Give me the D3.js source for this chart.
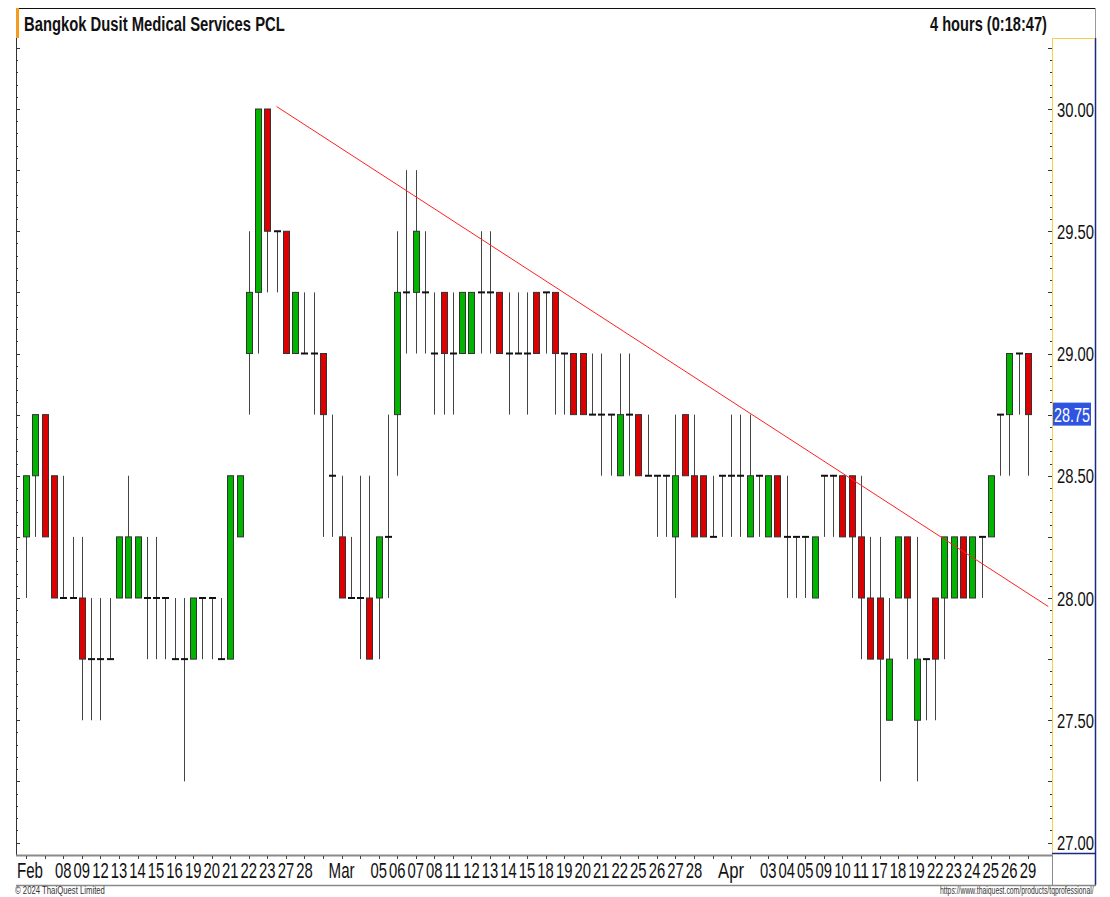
<!DOCTYPE html>
<html>
<head>
<meta charset="utf-8">
<script src="https://cdn.jsdelivr.net/npm/d3@7"></script>
<style>
  html, body { margin: 0; padding: 0; background: #fff; }
  svg { display: block; font-family: "Liberation Sans", Arial, sans-serif; }
</style>
</head>
<body>
<div id="chart"></div>
<script>
// Bangkok Dusit Medical Services PCL - 4 hour candles, Feb-Apr 2024
var tradingDays = [
  'Feb 06', 'Feb 07', 'Feb 08', 'Feb 09', 'Feb 12', 'Feb 13', 'Feb 14', 'Feb 15', 'Feb 16',
  'Feb 19', 'Feb 20', 'Feb 21', 'Feb 22', 'Feb 23', 'Feb 27', 'Feb 28', 'Feb 29',
  'Mar 01', 'Mar 04', 'Mar 05', 'Mar 06', 'Mar 07', 'Mar 08', 'Mar 11', 'Mar 12', 'Mar 13',
  'Mar 14', 'Mar 15', 'Mar 18', 'Mar 19', 'Mar 20', 'Mar 21', 'Mar 22', 'Mar 25', 'Mar 26',
  'Mar 27', 'Mar 28', 'Mar 29', 'Apr 01', 'Apr 02', 'Apr 03', 'Apr 04', 'Apr 05', 'Apr 09',
  'Apr 10', 'Apr 11', 'Apr 17', 'Apr 18', 'Apr 19', 'Apr 22', 'Apr 23', 'Apr 24', 'Apr 25',
  'Apr 26', 'Apr 29'
];

// label shown under each trading day ('' = hidden)
var dayLabels = [
  'Feb', '', '08', '09', '12', '13', '14', '15', '16', '19', '20', '21', '22', '23', '27', '28', '',
  'Mar', '', '05', '06', '07', '08', '11', '12', '13', '14', '15', '18', '19', '20', '21', '22',
  '25', '26', '27', '28', '', 'Apr', '', '03', '04', '05', '09', '10', '11', '17', '18', '19',
  '22', '23', '24', '25', '26', '29'
];

// two bars per day, last day has one (still open)
var opens = [
  28.25, 28.50, 28.75, 28.50, 28.00, 28.00, 28.00, 27.75, 27.75, 27.75, 28.00, 28.00, 28.00, 28.00,
  28.00, 28.00, 27.75, 27.75, 27.75, 28.00, 28.00, 27.75, 27.75, 28.25, 29.00, 29.25, 30.00, 29.50,
  29.50, 29.00, 29.00, 29.00, 29.00, 28.50, 28.25, 28.00, 28.00, 28.00, 28.00, 28.25, 28.75, 29.25,
  29.25, 29.25, 29.00, 29.25, 29.00, 29.00, 29.00, 29.25, 29.25, 29.25, 29.00, 29.00, 29.00, 29.25,
  29.25, 29.25, 29.00, 29.00, 29.00, 28.75, 28.75, 28.75, 28.50, 28.75, 28.75, 28.50, 28.50, 28.50,
  28.25, 28.75, 28.50, 28.50, 28.25, 28.50, 28.50, 28.50, 28.25, 28.50, 28.25, 28.50, 28.25, 28.25,
  28.25, 28.00, 28.50, 28.50, 28.50, 28.50, 28.25, 28.00, 28.00, 27.50, 28.00, 28.25, 27.50, 27.75,
  28.00, 28.00, 28.00, 28.25, 28.00, 28.25, 28.25, 28.75, 28.75, 29.00, 29.00
];
var highs = [
  28.50, 28.75, 28.75, 28.50, 28.50, 28.25, 28.25, 28.00, 28.00, 28.00, 28.25, 28.50, 28.25, 28.25,
  28.25, 28.00, 28.00, 28.00, 28.00, 28.00, 28.00, 28.00, 28.50, 28.50, 29.50, 30.00, 30.00, 29.50,
  29.50, 29.25, 29.25, 29.25, 29.00, 28.75, 28.50, 28.25, 28.50, 28.50, 28.25, 28.75, 29.50, 29.75,
  29.75, 29.50, 29.25, 29.25, 29.25, 29.25, 29.25, 29.50, 29.50, 29.25, 29.25, 29.25, 29.25, 29.25,
  29.25, 29.25, 29.00, 29.00, 29.00, 29.00, 29.00, 28.75, 29.00, 29.00, 28.75, 28.75, 28.50, 28.50,
  28.75, 28.75, 28.75, 28.50, 28.50, 28.50, 28.75, 28.75, 28.75, 28.50, 28.50, 28.50, 28.50, 28.25,
  28.25, 28.25, 28.50, 28.50, 28.50, 28.50, 28.50, 28.25, 28.25, 28.00, 28.00, 28.25, 28.25, 27.75,
  28.00, 28.00, 28.25, 28.25, 28.25, 28.25, 28.25, 28.75, 28.75, 29.00, 29.00, 29.00
];
var lows = [
  28.00, 28.25, 28.25, 28.00, 28.00, 28.00, 27.50, 27.50, 27.50, 27.75, 28.00, 28.00, 28.00, 27.75,
  27.75, 27.75, 27.75, 27.25, 27.75, 27.75, 27.75, 27.75, 27.75, 28.25, 28.75, 29.00, 29.25, 29.25,
  29.00, 29.00, 29.00, 28.75, 28.25, 28.25, 28.00, 28.00, 27.75, 27.75, 27.75, 28.00, 28.50, 29.00,
  29.00, 29.00, 28.75, 28.75, 28.75, 29.00, 29.00, 29.00, 29.00, 29.00, 28.75, 29.00, 28.75, 29.00,
  29.00, 28.75, 28.75, 28.75, 28.75, 28.75, 28.50, 28.50, 28.50, 28.50, 28.50, 28.50, 28.25, 28.25,
  28.00, 28.50, 28.25, 28.25, 28.25, 28.25, 28.25, 28.25, 28.25, 28.25, 28.25, 28.25, 28.00, 28.00,
  28.00, 28.00, 28.25, 28.25, 28.25, 28.00, 27.75, 27.75, 27.25, 27.50, 28.00, 27.75, 27.25, 27.50,
  27.50, 27.75, 28.00, 28.00, 28.00, 28.00, 28.25, 28.50, 28.50, 28.75, 28.50
];
var closes = [
  28.50, 28.75, 28.25, 28.00, 28.00, 28.00, 27.75, 27.75, 27.75, 27.75, 28.25, 28.25, 28.25, 28.00,
  28.00, 28.00, 27.75, 27.75, 28.00, 28.00, 28.00, 27.75, 28.50, 28.50, 29.25, 30.00, 29.50, 29.50,
  29.00, 29.25, 29.00, 29.00, 28.75, 28.50, 28.00, 28.00, 28.00, 27.75, 28.25, 28.25, 29.25, 29.25,
  29.50, 29.25, 29.00, 29.00, 29.00, 29.25, 29.25, 29.25, 29.25, 29.00, 29.00, 29.00, 29.00, 29.00,
  29.25, 29.00, 29.00, 28.75, 28.75, 28.75, 28.75, 28.75, 28.75, 28.75, 28.50, 28.50, 28.50, 28.50,
  28.50, 28.50, 28.25, 28.25, 28.25, 28.50, 28.50, 28.50, 28.50, 28.50, 28.50, 28.25, 28.25, 28.25,
  28.25, 28.25, 28.50, 28.50, 28.25, 28.25, 28.00, 27.75, 27.75, 27.75, 28.25, 28.00, 27.75, 27.75,
  27.75, 28.25, 28.25, 28.00, 28.25, 28.25, 28.50, 28.75, 29.00, 29.00, 28.75
];

var priceLabels = [27.00, 27.50, 28.00, 28.50, 29.00, 29.50, 30.00];
var lastPrice = 28.75;

// trend line anchors: bar index and price
var trendBars = [27, 110.2];
var trendPrices = [30.01, 27.965];

(function() {
    'use strict';

    var width = 1110, height = 897;
    var plotLeft = 16, plotTop = 8, plotBottom = 855, axisX = 1052, frameRight = 1095;
    var green = '#00b400', red = '#dc0000', wickColor = '#454545';

    var bars = opens.map(function(o, i) {
        return { i: i, open: o, high: highs[i], low: lows[i], close: closes[i] };
    });

    var x = d3.scaleLinear().domain([0, 108]).range([26.2, 1027.9]);
    var y = d3.scaleLinear().domain([27, 30]).range([842.5, 109]);

    function px(v) { return Math.round(v) + 0.5; }

    // the chart's fonts are tall and narrow: squeeze each text to a target width
    function squeeze(sel, target, tx, ty) {
        sel.each(function(d, i) {
            var node = this;
            var w = typeof target === 'function' ? target(d, i) : target;
            var s = w / node.getComputedTextLength();
            var ax = typeof tx === 'function' ? tx(d, i) : tx;
            var ay = typeof ty === 'function' ? ty(d, i) : ty;
            d3.select(node).attr('transform', 'translate(' + ax + ',' + ay + ') scale(' + s + ',1)');
        });
    }

    var svg = d3.select('#chart').append('svg')
        .attr('width', width)
        .attr('height', height);

    // frame
    svg.append('line').attr('x1', plotLeft).attr('x2', frameRight).attr('y1', 8.5).attr('y2', 8.5)
        .attr('stroke', '#111');
    svg.append('line').attr('x1', 16.5).attr('x2', 16.5).attr('y1', plotTop).attr('y2', plotBottom)
        .attr('stroke', '#333');
    svg.append('rect').attr('x', 16).attr('y', 8).attr('width', 3).attr('height', 30)
        .attr('fill', '#f39c22');
    svg.append('line').attr('x1', 1095.5).attr('x2', 1095.5).attr('y1', 8).attr('y2', 38)
        .attr('stroke', '#999');
    svg.append('line').attr('x1', 1095.5).attr('x2', 1095.5).attr('y1', 38).attr('y2', 885)
        .attr('stroke', '#1a2a80').attr('stroke-width', 1.5);
    svg.append('line').attr('x1', axisX + 0.5).attr('x2', axisX + 0.5).attr('y1', 38).attr('y2', plotBottom)
        .attr('stroke', '#f5cf55');
    svg.append('line').attr('x1', axisX).attr('x2', 1095).attr('y1', 38.5).attr('y2', 38.5)
        .attr('stroke', '#f5cf55');
    svg.append('line').attr('x1', axisX).attr('x2', 1095).attr('y1', 853.5).attr('y2', 853.5)
        .attr('stroke', '#1a2a80').attr('stroke-width', 1.5);

    // minor ticks every 0.05 on the left frame and on the price axis
    var minor = d3.range(539, 606).map(function(v) { return v / 20; });
    svg.append('g').selectAll('line').data(minor).join('line')
        .attr('x1', 16).attr('x2', function(d) { return Math.round(d * 20) % 5 === 0 ? 20 : 18; })
        .attr('y1', function(d) { return px(y(d)); }).attr('y2', function(d) { return px(y(d)); })
        .attr('stroke', '#333');
    svg.append('g').selectAll('line').data(minor).join('line')
        .attr('x1', function(d) { return Math.round(d * 20) % 5 === 0 ? 1048 : 1050; }).attr('x2', 1052)
        .attr('y1', function(d) { return px(y(d)); }).attr('y2', function(d) { return px(y(d)); })
        .attr('stroke', '#333');

    svg.append('g').selectAll('text').data(priceLabels).join('text')
        .attr('font-size', 21)
        .attr('fill', '#111')
        .text(function(d) { return d3.format('.2f')(d); })
        .call(squeeze, 37, 1057, function(d) { return y(d) + 7.5; });

    // last price marker
    svg.append('rect').attr('x', 1053).attr('y', y(lastPrice) - 12).attr('width', 38).attr('height', 23)
        .attr('fill', '#2f55e0');
    svg.append('text')
        .attr('font-size', 21).attr('fill', '#fff')
        .text(d3.format('.2f')(lastPrice))
        .call(squeeze, 36, 1054, y(lastPrice) + 7.5);

    // date band
    svg.append('line').attr('x1', plotLeft).attr('x2', axisX + 1).attr('y1', 855.5).attr('y2', 855.5)
        .attr('stroke', '#8a8a8a').attr('stroke-width', 2);
    svg.append('line').attr('x1', plotLeft).attr('x2', 1096).attr('y1', 885.5).attr('y2', 885.5)
        .attr('stroke', '#8a8a8a').attr('stroke-width', 1.5);
    svg.append('line').attr('x1', axisX + 0.5).attr('x2', axisX + 0.5).attr('y1', 855).attr('y2', 885)
        .attr('stroke', '#8a8a8a');

    var dayIdx = d3.range(tradingDays.length);
    svg.append('g').selectAll('line').data(dayIdx).join('line')
        .attr('x1', function(d) { return px(x(d * 2)); }).attr('x2', function(d) { return px(x(d * 2)); })
        .attr('y1', 856).attr('y2', 859)
        .attr('stroke', '#444');

    svg.append('g').selectAll('text').data(dayIdx.filter(function(d) { return dayLabels[d]; })).join('text')
        .attr('text-anchor', 'middle')
        .attr('font-size', 22)
        .attr('fill', '#111')
        .text(function(d) { return dayLabels[d]; })
        .call(squeeze, function(d) { return dayLabels[d].length === 3 ? 26 : 16.5; },
            function(d) { return d === 0 ? 30 : x(d * 2); }, 878);

    // candles
    var candles = svg.append('g').selectAll('g').data(bars).join('g');

    candles.append('line')
        .attr('x1', function(d) { return px(x(d.i)); }).attr('x2', function(d) { return px(x(d.i)); })
        .attr('y1', function(d) { return y(d.high); }).attr('y2', function(d) { return y(d.low); })
        .attr('stroke', wickColor);

    candles.filter(function(d) { return d.open !== d.close; }).append('rect')
        .attr('x', function(d) { return Math.round(x(d.i)) - 3 + 0.5; })
        .attr('y', function(d) { return y(Math.max(d.open, d.close)); })
        .attr('width', 6)
        .attr('height', function(d) { return Math.abs(y(d.open) - y(d.close)); })
        .attr('fill', function(d) { return d.close > d.open ? green : red; })
        .attr('stroke', '#333');

    candles.filter(function(d) { return d.open === d.close; }).append('line')
        .attr('x1', function(d) { return Math.round(x(d.i)) - 3; })
        .attr('x2', function(d) { return Math.round(x(d.i)) + 4; })
        .attr('y1', function(d) { return y(d.close); }).attr('y2', function(d) { return y(d.close); })
        .attr('stroke', '#111').attr('stroke-width', 2);

    // trend line
    svg.append('line')
        .attr('x1', x(trendBars[0])).attr('y1', y(trendPrices[0]))
        .attr('x2', x(trendBars[1])).attr('y2', y(trendPrices[1]))
        .attr('stroke', '#ff2020').attr('stroke-width', 1);

    // titles
    svg.append('text')
        .attr('font-size', 21).attr('font-weight', 'bold').attr('fill', '#111')
        .text('Bangkok Dusit Medical Services PCL')
        .call(squeeze, 261, 24, 31);
    svg.append('text')
        .attr('font-size', 21).attr('font-weight', 'bold').attr('fill', '#111')
        .text('4 hours (0:18:47)')
        .call(squeeze, 117, 930, 31);

    svg.append('text')
        .attr('font-size', 10).attr('fill', '#333')
        .text('\u00a9 2024 ThaiQuest Limited')
        .call(squeeze, 90, 15, 894);
    svg.append('text')
        .attr('font-size', 10).attr('fill', '#333')
        .text('https://www.thaiquest.com/products/tqprofessional/')
        .call(squeeze, 154, 940, 894);
})();
</script>
</body>
</html>
